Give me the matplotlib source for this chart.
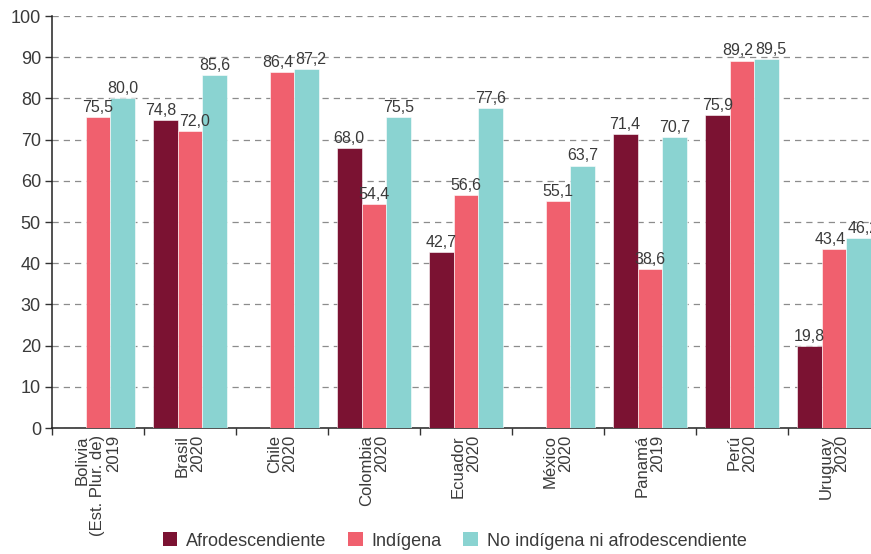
import numpy as np
import matplotlib
matplotlib.use("Agg")
import matplotlib.pyplot as plt
from matplotlib.patches import Patch

plt.rcParams['font.family'] = ['Liberation Sans Narrow', 'Liberation Sans', 'DejaVu Sans']

# Porcentajes por país y grupo de población
paises = ["Bolivia\n(Est. Plur. de)\n2019", "Brasil\n2020", "Chile\n2020",
          "Colombia\n2020", "Ecuador\n2020", "México\n2020",
          "Panamá\n2019", "Perú\n2020", "Uruguay\n2020"]
afro = [np.nan, 74.8, np.nan, 68.0, 42.7, np.nan, 71.4, 75.9, 19.8]
indigena = [75.5, 72.0, 86.4, 54.4, 56.6, 55.1, 38.6, 89.2, 43.4]
no_ind = [80.0, 85.6, 87.2, 75.5, 77.6, 63.7, 70.7, 89.5, 46.2]

series = ["Afrodescendiente", "Indígena", "No indígena ni afrodescendiente"]
colores = ["#7b1232", "#f0606e", "#8ad3d1"]
texto = "#3a3a3a"

fig = plt.figure(figsize=(8.71, 5.54), dpi=100)
ax = fig.add_axes([0.0597, 0.2274, 0.9506, 0.7437])

x = np.arange(len(paises))
w = 0.27
datos = np.array([afro, indigena, no_ind], dtype=float)

# desplazamiento horizontal (en puntos) de cada etiqueta para que no se pisen
despl = np.zeros_like(datos)
for j in range(len(paises)):
    for i in range(2):
        a, b = datos[i, j], datos[i + 1, j]
        if not np.isnan(a) and not np.isnan(b) and abs(a - b) < 3.0:
            despl[i, j] -= 3
            despl[i + 1, j] += 3

for i, col in enumerate(colores):
    pos = x + (i - 1) * w
    v = datos[i]
    ax.bar(pos, np.nan_to_num(v), w, color=col, edgecolor="white", linewidth=0.4, zorder=3)
    for j, (p, val) in enumerate(zip(pos, v)):
        if np.isnan(val):
            continue
        ax.annotate(f"{val:.1f}".replace(".", ","), (p, val), xytext=(despl[i, j], 1.5),
                    textcoords="offset points", ha="center", va="bottom",
                    fontsize=11.5, color=texto, zorder=4)

ax.set_xlim(-0.5, len(paises) - 0.5)
ax.set_ylim(0, 100)
ax.set_yticks(range(0, 101, 10))
ax.yaxis.grid(True, linestyle=(0, (5, 4)), color="#8c8c8c", linewidth=0.9, zorder=0)
ax.set_axisbelow(True)

ax.set_xticks(np.arange(-0.5, len(paises), 1))
ax.set_xticklabels([])
ax.tick_params(axis="x", length=5, width=1, color="#333333")
ax.tick_params(axis="y", length=5, width=1, color="#333333", labelsize=13, labelcolor=texto, pad=3)

for xi, nombre in zip(x, paises):
    ax.text(xi, -1.7, nombre, rotation=90, ha="center", va="top", multialignment="right",
            fontsize=12, color=texto, linespacing=1.05)

for s in ["top", "right"]:
    ax.spines[s].set_visible(False)
for s in ["left", "bottom"]:
    ax.spines[s].set_color("#222222")
    ax.spines[s].set_linewidth(1.1)

handles = [Patch(facecolor=c, edgecolor="none") for c in colores]
fig.legend(handles, series, loc="center", bbox_to_anchor=(0.522, 0.0235), ncol=3,
           frameon=False, fontsize=13, handlelength=0.8, handleheight=0.8,
           handletextpad=0.5, columnspacing=1.2, labelcolor=texto)

fig.savefig("out.png", dpi=100)
